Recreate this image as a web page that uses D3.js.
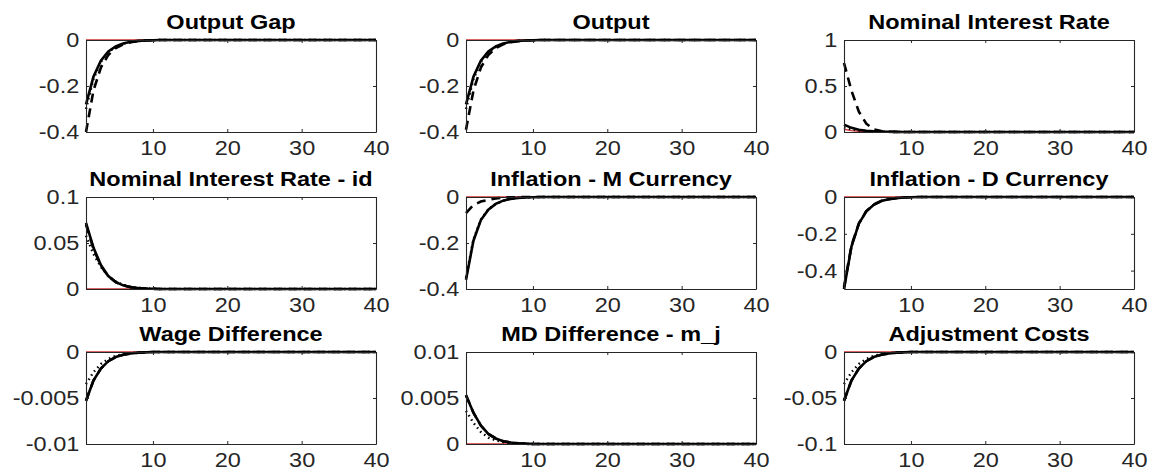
<!DOCTYPE html>
<html>
<head>
<meta charset="utf-8">
<script src="https://cdn.jsdelivr.net/npm/d3@7"></script>
<style>
  body { margin: 0; background: #fff; }
  text { font-family: "Liberation Sans", Arial, Helvetica, sans-serif; }
</style>
</head>
<body>
<div id="chart"></div>
<script>
// impulse responses, periods 1..40
var periods = [1,2,3,4,5,6,7,8,9,10,11,12,13,14,15,16,17,18,19,20,21,22,23,24,25,26,27,28,29,30,31,32,33,34,35,36,37,38,39,40];

var titles = ["Output Gap", "Output", "Nominal Interest Rate",
  "Nominal Interest Rate - id", "Inflation - M Currency", "Inflation - D Currency",
  "Wage Difference", "MD Difference - m_j", "Adjustment Costs"];

var yDomains = [[-0.4, 0], [-0.4, 0], [0, 1],
  [0, 0.1], [-0.4, 0], [-0.5, 0],
  [-0.01, 0], [0, 0.01], [-0.1, 0]];

var yTicks = [[-0.4, -0.2, 0], [-0.4, -0.2, 0], [0, 0.5, 1],
  [0, 0.05, 0.1], [-0.4, -0.2, 0], [-0.4, -0.2, 0],
  [-0.01, -0.005, 0], [0, 0.005, 0.01], [-0.1, -0.05, 0]];

var xTicks = [10, 20, 30, 40];

var solidLines = [
  [-0.28,-0.16,-0.09,-0.05,-0.028,-0.015,-0.008,-0.004,-0.002,-0.001,0,0,0,0,0,0,0,0,0,0,0,0,0,0,0,0,0,0,0,0,0,0,0,0,0,0,0,0,0,0],
  [-0.28,-0.16,-0.09,-0.05,-0.028,-0.015,-0.008,-0.004,-0.002,-0.001,0,0,0,0,0,0,0,0,0,0,0,0,0,0,0,0,0,0,0,0,0,0,0,0,0,0,0,0,0,0],
  [0.08,0.045,0.025,0.014,0.008,0.004,0.002,0.001,0,0,0,0,0,0,0,0,0,0,0,0,0,0,0,0,0,0,0,0,0,0,0,0,0,0,0,0,0,0,0,0],
  [0.072,0.045,0.026,0.014,0.0075,0.004,0.002,0.001,0.0005,0.0002,0,0,0,0,0,0,0,0,0,0,0,0,0,0,0,0,0,0,0,0,0,0,0,0,0,0,0,0,0,0],
  [-0.36,-0.19,-0.10,-0.055,-0.03,-0.016,-0.008,-0.004,-0.002,-0.001,0,0,0,0,0,0,0,0,0,0,0,0,0,0,0,0,0,0,0,0,0,0,0,0,0,0,0,0,0,0],
  [-0.50,-0.27,-0.145,-0.078,-0.042,-0.022,-0.012,-0.006,-0.003,-0.0015,0,0,0,0,0,0,0,0,0,0,0,0,0,0,0,0,0,0,0,0,0,0,0,0,0,0,0,0,0,0],
  [-0.0053,-0.0031,-0.0018,-0.001,-0.00055,-0.0003,-0.00016,-0.00008,-0.00004,0,0,0,0,0,0,0,0,0,0,0,0,0,0,0,0,0,0,0,0,0,0,0,0,0,0,0,0,0,0,0],
  [0.0053,0.0034,0.002,0.0011,0.0006,0.0003,0.00016,0.00008,0.00004,0,0,0,0,0,0,0,0,0,0,0,0,0,0,0,0,0,0,0,0,0,0,0,0,0,0,0,0,0,0,0],
  [-0.053,-0.031,-0.018,-0.01,-0.0055,-0.003,-0.0016,-0.0008,-0.0004,0,0,0,0,0,0,0,0,0,0,0,0,0,0,0,0,0,0,0,0,0,0,0,0,0,0,0,0,0,0,0]
];

var dashedLines = [
  [-0.40,-0.22,-0.12,-0.065,-0.035,-0.019,-0.01,-0.005,-0.0025,-0.001,0,0,0,0,0,0,0,0,0,0,0,0,0,0,0,0,0,0,0,0,0,0,0,0,0,0,0,0,0,0],
  [-0.39,-0.22,-0.12,-0.065,-0.035,-0.019,-0.01,-0.005,-0.0025,-0.001,0,0,0,0,0,0,0,0,0,0,0,0,0,0,0,0,0,0,0,0,0,0,0,0,0,0,0,0,0,0],
  [0.75,0.45,0.22,0.09,0.03,0.01,0.003,0.001,0,0,0,0,0,0,0,0,0,0,0,0,0,0,0,0,0,0,0,0,0,0,0,0,0,0,0,0,0,0,0,0],
  [0.07,0.044,0.025,0.014,0.0075,0.004,0.002,0.001,0.0005,0.0002,0,0,0,0,0,0,0,0,0,0,0,0,0,0,0,0,0,0,0,0,0,0,0,0,0,0,0,0,0,0],
  [-0.07,-0.035,-0.02,-0.012,-0.006,-0.003,-0.0015,-0.0007,0,0,0,0,0,0,0,0,0,0,0,0,0,0,0,0,0,0,0,0,0,0,0,0,0,0,0,0,0,0,0,0],
  [-0.49,-0.265,-0.143,-0.077,-0.041,-0.022,-0.012,-0.006,-0.003,-0.0015,0,0,0,0,0,0,0,0,0,0,0,0,0,0,0,0,0,0,0,0,0,0,0,0,0,0,0,0,0,0],
  [-0.0053,-0.0031,-0.0018,-0.001,-0.00055,-0.0003,-0.00016,-0.00008,-0.00004,0,0,0,0,0,0,0,0,0,0,0,0,0,0,0,0,0,0,0,0,0,0,0,0,0,0,0,0,0,0,0],
  [0.0053,0.0034,0.002,0.0011,0.0006,0.0003,0.00016,0.00008,0.00004,0,0,0,0,0,0,0,0,0,0,0,0,0,0,0,0,0,0,0,0,0,0,0,0,0,0,0,0,0,0,0],
  [-0.053,-0.031,-0.018,-0.01,-0.0055,-0.003,-0.0016,-0.0008,-0.0004,0,0,0,0,0,0,0,0,0,0,0,0,0,0,0,0,0,0,0,0,0,0,0,0,0,0,0,0,0,0,0]
];

var dottedLines = [
  [-0.30,-0.17,-0.095,-0.053,-0.03,-0.016,-0.009,-0.005,-0.002,-0.001,0,0,0,0,0,0,0,0,0,0,0,0,0,0,0,0,0,0,0,0,0,0,0,0,0,0,0,0,0,0],
  [-0.30,-0.17,-0.095,-0.053,-0.03,-0.016,-0.009,-0.005,-0.002,-0.001,0,0,0,0,0,0,0,0,0,0,0,0,0,0,0,0,0,0,0,0,0,0,0,0,0,0,0,0,0,0],
  [0.05,0.03,0.017,0.009,0.005,0.003,0.001,0,0,0,0,0,0,0,0,0,0,0,0,0,0,0,0,0,0,0,0,0,0,0,0,0,0,0,0,0,0,0,0,0],
  [0.058,0.038,0.024,0.014,0.008,0.0045,0.0025,0.0013,0.0007,0.0003,0,0,0,0,0,0,0,0,0,0,0,0,0,0,0,0,0,0,0,0,0,0,0,0,0,0,0,0,0,0],
  [-0.35,-0.185,-0.098,-0.054,-0.03,-0.016,-0.008,-0.004,-0.002,-0.001,0,0,0,0,0,0,0,0,0,0,0,0,0,0,0,0,0,0,0,0,0,0,0,0,0,0,0,0,0,0],
  [-0.50,-0.27,-0.145,-0.078,-0.042,-0.022,-0.012,-0.006,-0.003,-0.0015,0,0,0,0,0,0,0,0,0,0,0,0,0,0,0,0,0,0,0,0,0,0,0,0,0,0,0,0,0,0],
  [-0.0035,-0.0022,-0.0013,-0.00075,-0.00042,-0.00023,-0.00012,-0.00006,-0.00003,0,0,0,0,0,0,0,0,0,0,0,0,0,0,0,0,0,0,0,0,0,0,0,0,0,0,0,0,0,0,0],
  [0.0036,0.0023,0.0013,0.0007,0.0004,0.0002,0.0001,0.00005,0,0,0,0,0,0,0,0,0,0,0,0,0,0,0,0,0,0,0,0,0,0,0,0,0,0,0,0,0,0,0,0],
  [-0.035,-0.022,-0.013,-0.0075,-0.0042,-0.0023,-0.0012,-0.0006,-0.0003,0,0,0,0,0,0,0,0,0,0,0,0,0,0,0,0,0,0,0,0,0,0,0,0,0,0,0,0,0,0,0]
];

// red reference series (zero line, small positive blip in the interest rate panel)
var redLines = [
  [0,0,0,0,0,0,0,0,0,0,0,0,0,0,0,0,0,0,0,0,0,0,0,0,0,0,0,0,0,0,0,0,0,0,0,0,0,0,0,0],
  [0,0,0,0,0,0,0,0,0,0,0,0,0,0,0,0,0,0,0,0,0,0,0,0,0,0,0,0,0,0,0,0,0,0,0,0,0,0,0,0],
  [0.03,0.015,0.007,0.003,0.001,0,0,0,0,0,0,0,0,0,0,0,0,0,0,0,0,0,0,0,0,0,0,0,0,0,0,0,0,0,0,0,0,0,0,0],
  [0,0,0,0,0,0,0,0,0,0,0,0,0,0,0,0,0,0,0,0,0,0,0,0,0,0,0,0,0,0,0,0,0,0,0,0,0,0,0,0],
  [0,0,0,0,0,0,0,0,0,0,0,0,0,0,0,0,0,0,0,0,0,0,0,0,0,0,0,0,0,0,0,0,0,0,0,0,0,0,0,0],
  [0,0,0,0,0,0,0,0,0,0,0,0,0,0,0,0,0,0,0,0,0,0,0,0,0,0,0,0,0,0,0,0,0,0,0,0,0,0,0,0],
  [0,0,0,0,0,0,0,0,0,0,0,0,0,0,0,0,0,0,0,0,0,0,0,0,0,0,0,0,0,0,0,0,0,0,0,0,0,0,0,0],
  [0,0,0,0,0,0,0,0,0,0,0,0,0,0,0,0,0,0,0,0,0,0,0,0,0,0,0,0,0,0,0,0,0,0,0,0,0,0,0,0],
  [0,0,0,0,0,0,0,0,0,0,0,0,0,0,0,0,0,0,0,0,0,0,0,0,0,0,0,0,0,0,0,0,0,0,0,0,0,0,0,0]
];

var svgWidth = 1153;
var svgHeight = 476;
var colLeft = [86, 466, 844];
var rowTop = [40, 197, 352];
var plotW = 290;
var plotH = 92;
var stretch = "scale(1.12,1)";

var svg = d3.select("#chart").append("svg")
  .attr("width", svgWidth)
  .attr("height", svgHeight);

titles.forEach(function(title, i) {
  var g = svg.append("g")
    .attr("transform", `translate(${colLeft[i % 3]}, ${rowTop[Math.floor(i / 3)]})`);

  var xScale = d3.scaleLinear().domain([1, 40]).range([0, plotW]);
  var yScale = d3.scaleLinear().domain(yDomains[i]).range([plotH, 0]);

  g.append("clipPath").attr("id", "clip" + i)
    .append("rect").attr("x", -2).attr("y", -2).attr("width", plotW + 4).attr("height", plotH + 4);

  var lines = g.append("g").attr("clip-path", `url(#clip${i})`);
  var line = d3.line()
    .x((d, k) => xScale(periods[k]))
    .y(d => yScale(d));

  lines.append("path").attr("d", line(redLines[i]))
    .attr("fill", "none").attr("stroke", "#d23030").attr("stroke-width", 1.3);
  lines.append("path").attr("d", line(solidLines[i]))
    .attr("fill", "none").attr("stroke", "#000").attr("stroke-width", 2.6);
  lines.append("path").attr("d", line(dashedLines[i]))
    .attr("fill", "none").attr("stroke", "#000").attr("stroke-width", 2.6)
    .attr("stroke-dasharray", "9,6");
  lines.append("path").attr("d", line(dottedLines[i]))
    .attr("fill", "none").attr("stroke", "#000").attr("stroke-width", 2.4)
    .attr("stroke-dasharray", "1.5,3.5");

  // box axes, ticks inside like matlab
  var bottom = g.append("g").attr("transform", `translate(0, ${plotH})`)
    .call(d3.axisBottom(xScale).tickValues(xTicks).tickSizeInner(-3).tickSizeOuter(0).tickPadding(8));
  var left = g.append("g")
    .call(d3.axisLeft(yScale).tickValues(yTicks[i]).tickSizeInner(-3).tickSizeOuter(0).tickPadding(6)
      .tickFormat(d => String(d)));
  g.append("g")
    .call(d3.axisTop(xScale).tickValues(xTicks).tickSizeInner(-3).tickSizeOuter(0).tickFormat(""));
  g.append("g").attr("transform", `translate(${plotW}, 0)`)
    .call(d3.axisRight(yScale).tickValues(yTicks[i]).tickSizeInner(-3).tickSizeOuter(0).tickFormat(""));

  g.selectAll(".domain").attr("stroke", "#262626").attr("stroke-width", 1.1);
  g.selectAll(".tick line").attr("stroke", "#262626");

  [bottom, left].forEach(function(ax) {
    ax.attr("font-size", 21)
      .attr("font-family", '"Liberation Sans", Arial, Helvetica, sans-serif');
    ax.selectAll("text")
      .attr("fill", "#262626")
      .attr("transform", stretch);
  });

  g.append("text")
    .attr("transform", `translate(${plotW / 2}, -11) ${stretch}`)
    .attr("text-anchor", "middle")
    .attr("font-size", 21)
    .attr("font-weight", "bold")
    .attr("fill", "#000")
    .text(title);
});
</script>
</body>
</html>
